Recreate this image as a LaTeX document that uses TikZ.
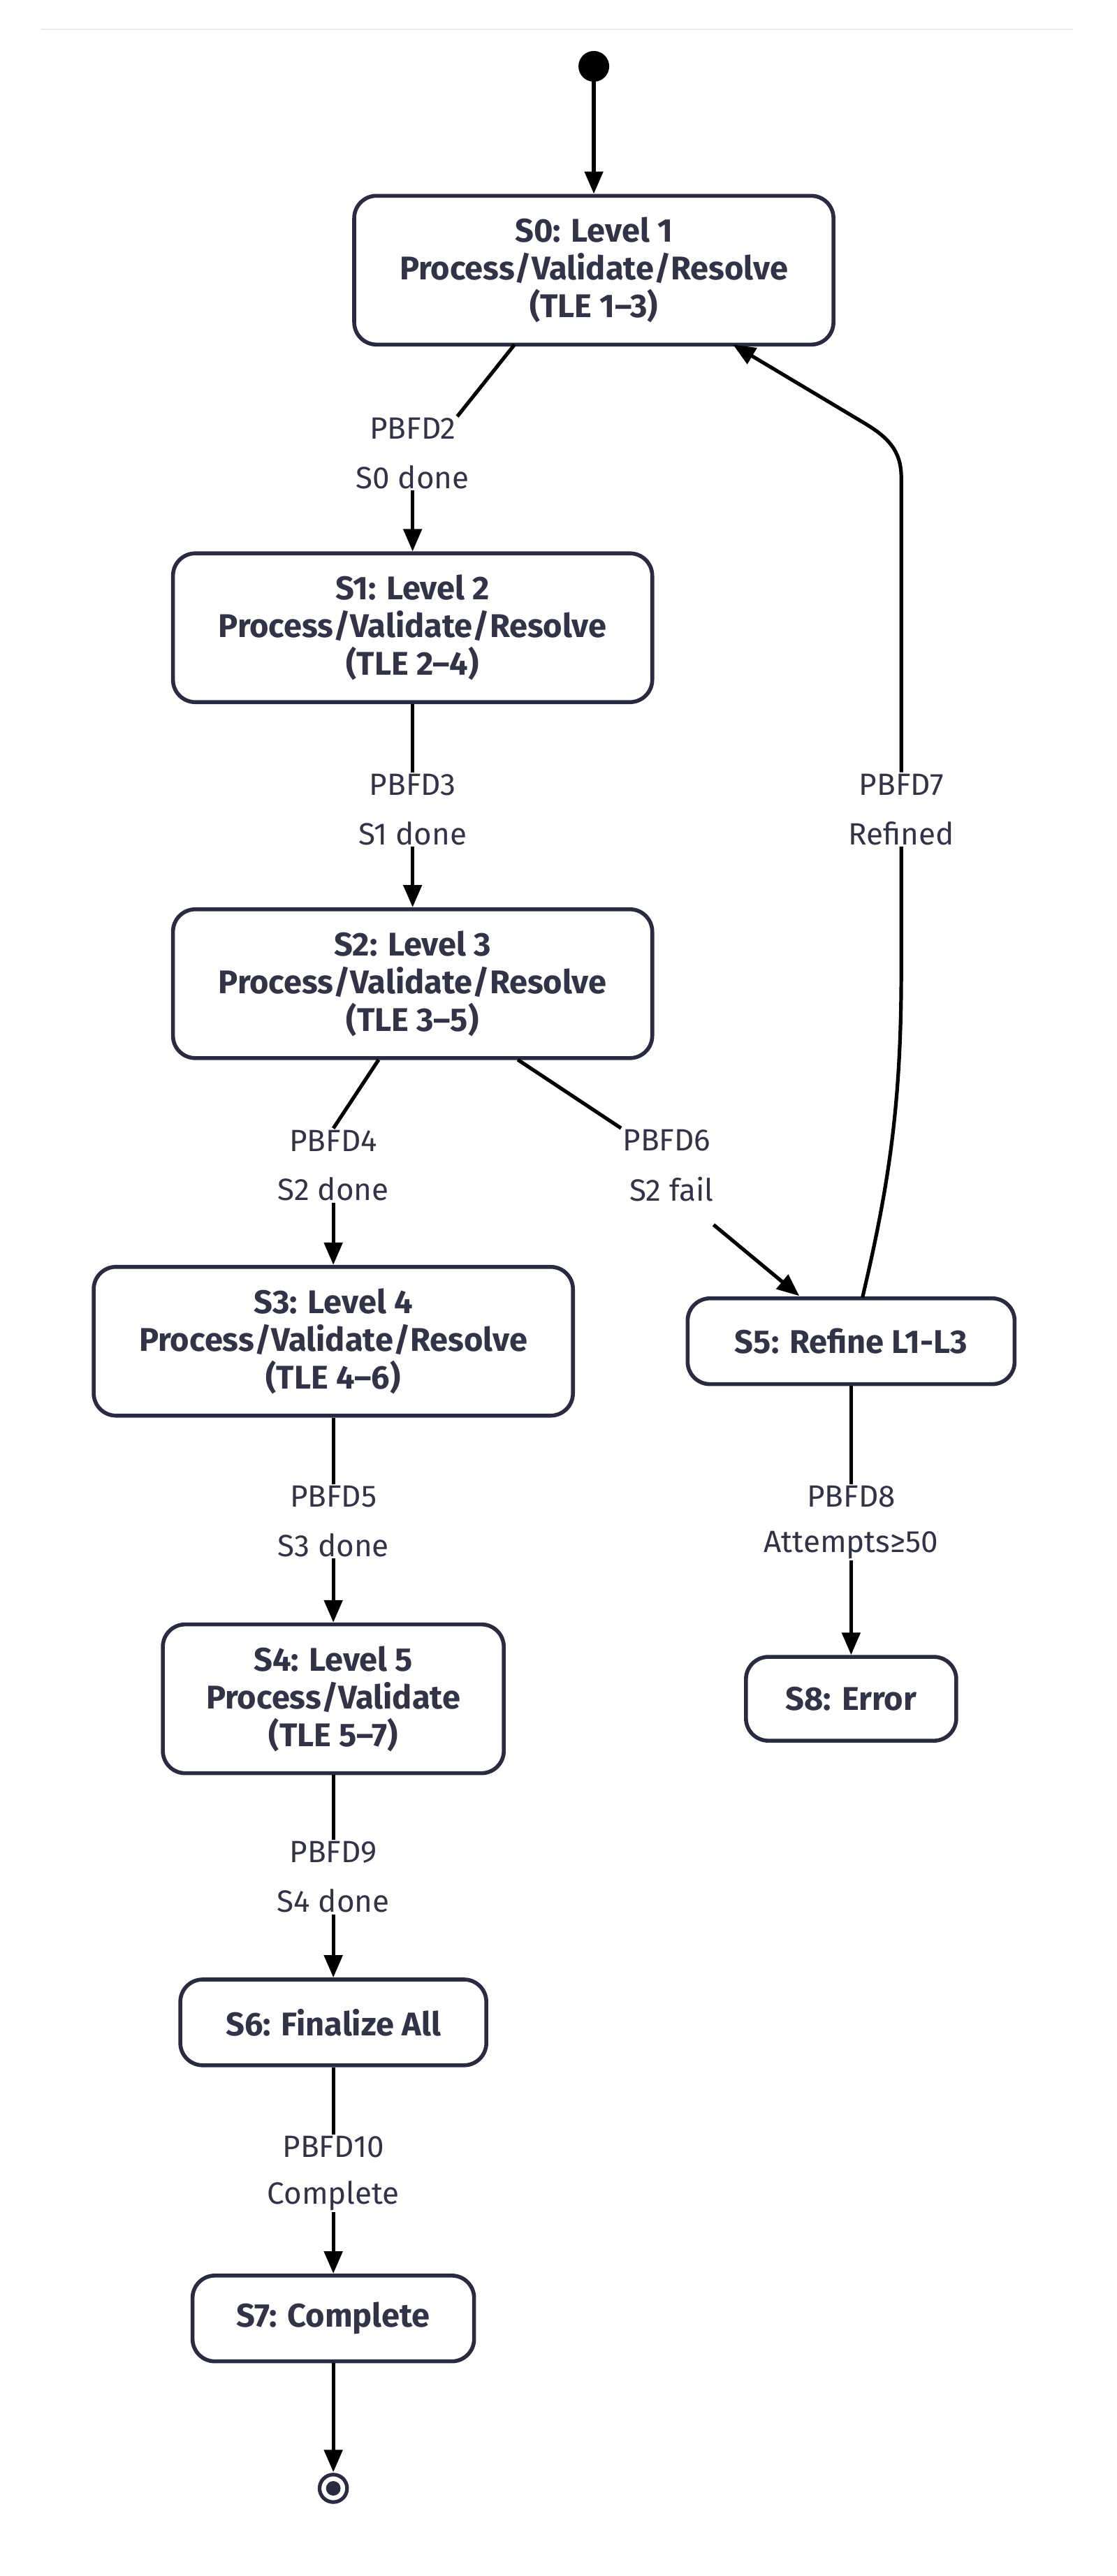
\documentclass[tikz,border=0pt]{standalone}
\usepackage{fontspec}
\setmainfont{Fira Sans}
\usetikzlibrary{arrows.meta}
\definecolor{nv}{HTML}{2A2A40}
\definecolor{tx}{HTML}{333348}
\begin{document}
\begin{tikzpicture}[x=1.158pt,y=-1.158pt,
 st/.style={draw=nv,line width=2.8pt,rounded corners=16pt,fill=white,align=center,font=\fontsize{23.5}{27}\selectfont\bfseries,text=tx,inner sep=0pt},
 lb/.style={font=\fontsize{22}{25}\selectfont,text=tx,fill=white,inner sep=1pt},
 ed/.style={line width=2.6pt,black},
 ar/.style={ed,-{Triangle[length=16pt,width=13pt]}}]
\useasboundingbox (0,0) rectangle (690,1592.2);
\draw[gray!15,line width=1pt] (25,18) -- (663,18);
\fill (367,41) circle (9.5);
\node[coordinate] (st0) at (367,41) {};
\node[st,minimum width=343pt,minimum height=106.5pt] (S0) at (367,167) {S0: Level 1\\Process/Validate/Resolve\\(TLE 1--3)};
\node[st,minimum width=343pt,minimum height=106.5pt] (S1) at (255,388) {S1: Level 2\\Process/Validate/Resolve\\(TLE 2--4)};
\node[st,minimum width=343pt,minimum height=106.5pt] (S2) at (255,608) {S2: Level 3\\Process/Validate/Resolve\\(TLE 3--5)};
\node[st,minimum width=343pt,minimum height=106.5pt] (S3) at (206,829) {S3: Level 4\\Process/Validate/Resolve\\(TLE 4--6)};
\node[st,minimum width=244pt,minimum height=106.5pt] (S4) at (206,1050) {S4: Level 5\\Process/Validate\\(TLE 5--7)};
\node[st,minimum width=234pt,minimum height=61.4pt] (S5) at (526,829) {S5: Refine L1-L3};
\node[st,minimum width=150.5pt,minimum height=60pt] (S8) at (526,1050) {S8: Error};
\node[st,minimum width=219pt,minimum height=61.4pt] (S6) at (206,1250) {S6: Finalize All};
\node[st,minimum width=201.5pt,minimum height=61.4pt] (S7) at (206,1433) {S7: Complete};
\draw[nv,line width=2.6pt] (206,1538) circle (8.5);
\fill[nv] (206,1538) circle (4.5);
\node[coordinate] (end) at (206,1528) {};
\draw[ar] (st0) -- (S0.north);
% labels
\node[lb] (l2a) at (255,265) {PBFD2}; \node[lb] (l2b) at (255,295) {S0 done};
\node[lb] (l3a) at (255,485) {PBFD3}; \node[lb] (l3b) at (255,515) {S1 done};
\node[lb] (l4a) at (206,705) {PBFD4}; \node[lb] (l4b) at (206,735) {S2 done};
\node[lb] (l6a) at (412,705) {PBFD6}; \node[lb] (l6b) at (415,735) {S2 fail};
\node[lb] (l5a) at (206,925) {PBFD5}; \node[lb] (l5b) at (206,955) {S3 done};
\node[lb] (l8a) at (526,925) {PBFD8}; \node[lb] (l8b) at (526,955) {Attempts≥50};
\node[lb] (l9a) at (206,1145) {PBFD9}; \node[lb] (l9b) at (206,1175) {S4 done};
\node[lb] (l10a) at (206,1327) {PBFD10}; \node[lb] (l10b) at (206,1357) {Complete};
\node[lb] (l7a) at (557,485) {PBFD7}; \node[lb] (l7b) at (557,515) {Refined};
\draw[ed] (318,213) -- (l2a.north east);
\draw[ar] (l2b.south) -- (S1.north);
\draw[ed] (S1.south) -- (l3a.north);
\draw[ar] (l3b.south) -- (S2.north);
\draw[ed] (234,655) -- (l4a.north);
\draw[ar] (l4b.south) -- (S3.north);
\draw[ed] (320,655) -- (l6a.north west);
\draw[ar] (441,757) -- (494,801);
\draw[ed] (S3.south) -- (l5a.north);
\draw[ar] (l5b.south) -- (S4.north);
\draw[ed] (S5.south) -- (l8a.north);
\draw[ar] (l8b.south) -- (S8.north);
\draw[ed] (S4.south) -- (l9a.north);
\draw[ar] (l9b.south) -- (S6.north);
\draw[ed] (S6.south) -- (l10a.north);
\draw[ar] (l10b.south) -- (S7.north);
\draw[ar] (S7.south) -- (end);
\draw[ed] (533,802) .. controls (550,730) and (557,680) .. (557,600) -- (l7b.south);
\draw[ar] (l7a.north) -- (557,295) .. controls (557,278) and (548,270) .. (535,262) -- (453,213);
\end{tikzpicture}
\end{document}
